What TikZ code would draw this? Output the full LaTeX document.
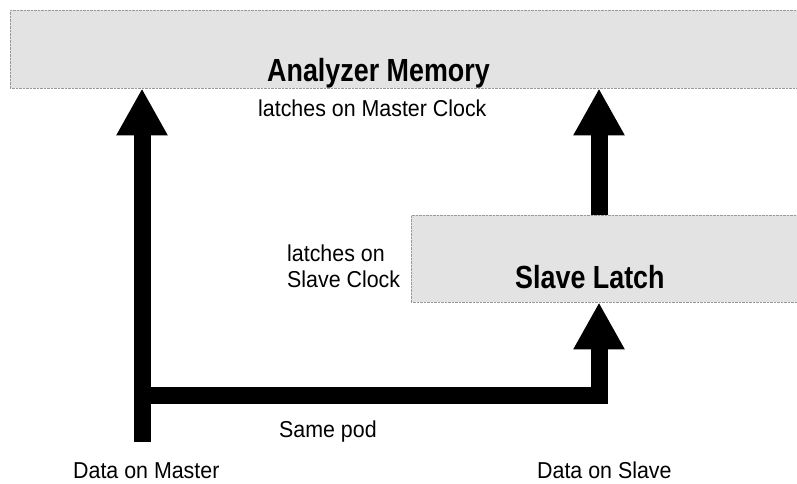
\documentclass[tikz,border=0pt]{standalone}
\usepackage{fontspec}
\setmainfont{Liberation Sans}
\newfontfamily\lblfont[FakeStretch=0.93]{Liberation Sans}
\newfontfamily\ttlfont[FakeStretch=0.84]{Liberation Sans}
\usetikzlibrary{arrows.meta}
\begin{document}
\begin{tikzpicture}[x=1pt,y=-1pt,
  box/.style={draw=gray!80, densely dotted, fill=gray!22, inner sep=0pt, anchor=north west},
  bigarrow/.style={line width=17pt, miter limit=10, line join=miter, -{Triangle[width=48pt,length=47pt]}},
  lbl/.style={font=\lblfont\fontsize{23}{26}\selectfont, inner sep=0pt, anchor=base west},
  ttl/.style={font=\ttlfont\bfseries\fontsize{32}{36}\selectfont, inner sep=0pt, anchor=base west}]
\useasboundingbox (0,0) rectangle (797,484);
\fill[white] (0,0) rectangle (797,484);
% boxes
\node[box, minimum width=787pt, minimum height=78pt] (mem) at (10,10) {};
\node[box, minimum width=386pt, minimum height=87pt] (slave) at (411,215) {};
\node[ttl] (memt) at (267,82) {Analyzer Memory};
\node[ttl] (slavet) at (515,288) {Slave Latch};
% connectors
\coordinate (mbot) at (142,442);
\coordinate (corner) at (599,395.5);
\draw[bigarrow] (mbot) -- (mbot |- mem.south);
\draw[bigarrow] (mbot |- corner) -- (corner) -- (corner |- slave.south);
\draw[bigarrow] (slave.north -| corner) -- (mem.south -| corner);
% labels
\node[lbl] (mclk) at (258,117) {latches on Master Clock};
\node[lbl] (sclka) at (287,261) {latches on};
\node[lbl] (sclkb) at (287,287) {Slave Clock};
\node[lbl] (pod) at (279,437) {Same pod};
\node[lbl] (dm) at (73,478) {Data on Master};
\node[lbl] (ds) at (537,478) {Data on Slave};
\end{tikzpicture}
\end{document}
